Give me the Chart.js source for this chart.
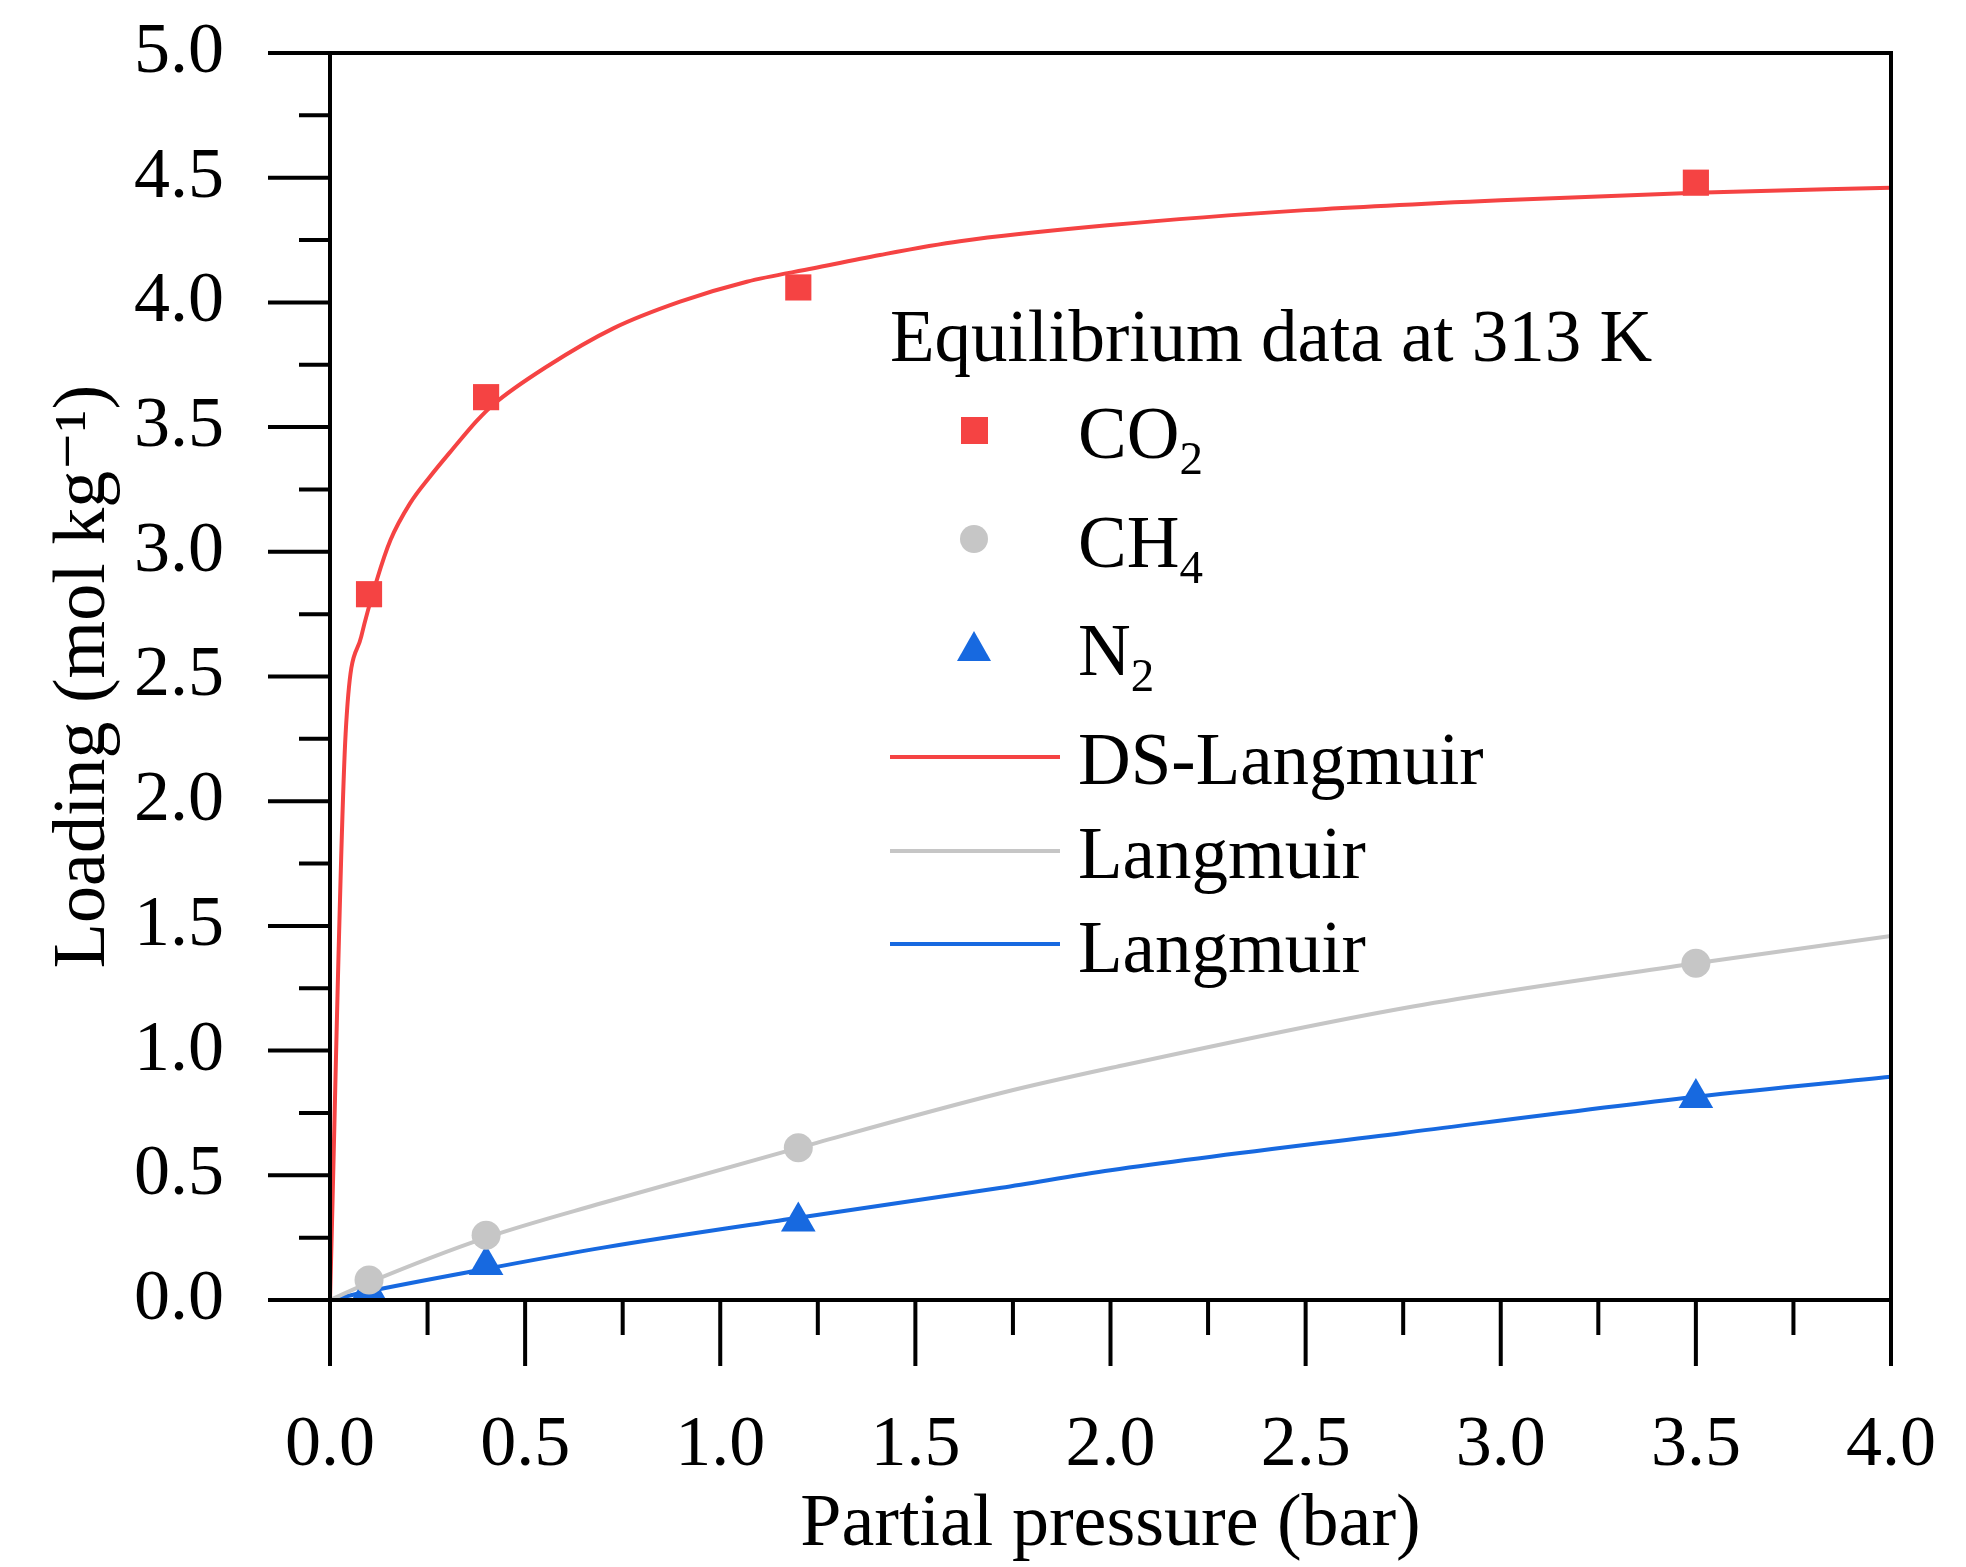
<!DOCTYPE html>
<html>
<head>
<meta charset="utf-8">
<title>Equilibrium isotherms at 313 K</title>
<script src="https://cdn.jsdelivr.net/npm/chart.js@4.4.0/dist/chart.umd.min.js"></script>
<style>
	html, body { margin: 0; padding: 0; background: #fff; }
	#wrap { position: relative; width: 1966px; height: 1567px; background: #fff; }
	#legend { position: absolute; left: 0; top: 0; font-family: 'Liberation Serif', 'Times New Roman', serif; font-size: 73px; line-height: 1; color: #000; }
	#legend .row { position: absolute; white-space: nowrap; }
	#legend .sub { font-size: 47px; position: relative; top: 16px; }
	#legend .mk { position: absolute; }
</style>
</head>
<body>
<div id="wrap">
	<canvas id="isothermChart"></canvas>
	<div id="legend">
		<div class="row" style="left:890px; top:300px;">Equilibrium data at 313 K</div>
		<div class="mk" style="left:961px; top:417px; width:27px; height:27px; background:#f54343;"></div>
		<div class="row" style="left:1078px; top:397px;">CO<span class="sub">2</span></div>
		<div class="mk" style="left:960px; top:525px; width:28px; height:28px; border-radius:50%; background:#c6c6c6;"></div>
		<div class="row" style="left:1078px; top:506px;">CH<span class="sub">4</span></div>
		<div class="mk" style="left:957px; top:631px; width:0; height:0; border-left:17px solid transparent; border-right:17px solid transparent; border-bottom:30px solid #1769e0;"></div>
		<div class="row" style="left:1078px; top:614px;">N<span class="sub">2</span></div>
		<div class="mk" style="left:890px; top:755px; width:170px; height:4px; background:#f54343;"></div>
		<div class="row" style="left:1078px; top:723px;">DS-Langmuir</div>
		<div class="mk" style="left:890px; top:849px; width:170px; height:4px; background:#c6c6c6;"></div>
		<div class="row" style="left:1078px; top:817px;">Langmuir</div>
		<div class="mk" style="left:890px; top:942px; width:170px; height:4px; background:#1769e0;"></div>
		<div class="row" style="left:1078px; top:911px;">Langmuir</div>
	</div>
</div>
<script>
(function () {
	'use strict';

	// measured points (bar, mol/kg)
	const pressureMeasured = [0.1, 0.4, 1.2, 3.5];
	const loadingCO2 = [2.83, 3.62, 4.06, 4.48];
	const loadingCH4 = [0.08, 0.26, 0.61, 1.35];
	const loadingN2 = [0.04, 0.14, 0.315, 0.81];

	// fitted curves
	const fitPressureCO2 = [0, 0.04, 0.08, 0.12, 0.155, 0.205, 0.256, 0.316, 0.376, 0.418, 0.555, 0.726, 0.897, 1.068, 1.239, 1.409, 1.614, 2.0, 2.5, 3.0, 3.5, 4.0];
	const fitLoadingCO2 = [0, 2.27, 2.66, 2.887, 3.047, 3.194, 3.301, 3.415, 3.525, 3.59, 3.742, 3.896, 4.003, 4.083, 4.137, 4.19, 4.245, 4.31, 4.37, 4.41, 4.44, 4.46];
	const fitPressureCH4 = [0, 0.1, 0.4, 0.7, 1.2, 1.72, 2.0, 2.75, 3.5, 4.0];
	const fitLoadingCH4 = [0, 0.07, 0.25, 0.39, 0.61, 0.83, 0.93, 1.17, 1.35, 1.46];
	const fitPressureN2 = [0, 0.1, 0.4, 0.7, 1.2, 1.72, 2.0, 2.75, 3.5, 4.0];
	const fitLoadingN2 = [0, 0.035, 0.125, 0.21, 0.33, 0.45, 0.52, 0.67, 0.815, 0.895];

	// axis ticks
	const xMajorTicks = [0, 0.5, 1.0, 1.5, 2.0, 2.5, 3.0, 3.5, 4.0];
	const xMinorTicks = [0.25, 0.75, 1.25, 1.75, 2.25, 2.75, 3.25, 3.75];
	const yMajorTicks = [0, 0.5, 1.0, 1.5, 2.0, 2.5, 3.0, 3.5, 4.0, 4.5, 5.0];
	const yMinorTicks = [0.25, 0.75, 1.25, 1.75, 2.25, 2.75, 3.25, 3.75, 4.25, 4.75];

	const RED = '#f54343';
	const GRAY = '#c6c6c6';
	const BLUE = '#1769e0';
	const FONT = "'Liberation Serif', 'Times New Roman', 'DejaVu Serif', serif";

	function toPoints(xs, ys) {
		return xs.map((x, i) => ({ x: x, y: ys[i] }));
	}

	// box frame plus outward major/minor ticks
	const frameAndTicks = {
		id: 'frameAndTicks',
		afterDatasetsDraw(chart) {
			const ctx = chart.ctx;
			const a = chart.chartArea;
			const xs = chart.scales.x;
			const ys = chart.scales.y;
			ctx.save();
			ctx.strokeStyle = '#000';
			ctx.lineWidth = 4;
			ctx.lineCap = 'butt';
			ctx.beginPath();
			xMajorTicks.forEach(v => {
				const px = xs.getPixelForValue(v);
				ctx.moveTo(px, a.bottom); ctx.lineTo(px, a.bottom + 66);
			});
			xMinorTicks.forEach(v => {
				const px = xs.getPixelForValue(v);
				ctx.moveTo(px, a.bottom); ctx.lineTo(px, a.bottom + 35);
			});
			yMajorTicks.forEach(v => {
				const py = ys.getPixelForValue(v);
				ctx.moveTo(a.left, py); ctx.lineTo(a.left - 62, py);
			});
			yMinorTicks.forEach(v => {
				const py = ys.getPixelForValue(v);
				ctx.moveTo(a.left, py); ctx.lineTo(a.left - 31, py);
			});
			ctx.stroke();
			ctx.lineJoin = 'miter';
			ctx.strokeRect(a.left, a.top, a.right - a.left, a.bottom - a.top);
			ctx.restore();
		}
	};

	function markerSet(label, ys, color, style, radius) {
		return {
			label: label,
			data: toPoints(pressureMeasured, ys),
			showLine: false,
			pointStyle: style,
			pointRadius: radius,
			pointHoverRadius: radius,
			pointBackgroundColor: color,
			pointBorderColor: color,
			pointBorderWidth: 0,
			order: 0
		};
	}

	function fitSet(label, xs, ys, color) {
		return {
			label: label,
			data: toPoints(xs, ys),
			showLine: true,
			borderColor: color,
			borderWidth: 4,
			pointRadius: 0,
			cubicInterpolationMode: 'monotone',
			fill: false,
			order: 1
		};
	}

	new Chart(document.getElementById('isothermChart'), {
		type: 'scatter',
		data: {
			datasets: [
				markerSet('CO2', loadingCO2, RED, 'rect', 18.5),
				markerSet('CH4', loadingCH4, GRAY, 'circle', 14.5),
				markerSet('N2', loadingN2, BLUE, 'triangle', 20),
				fitSet('DS-Langmuir', fitPressureCO2, fitLoadingCO2, RED),
				fitSet('Langmuir CH4', fitPressureCH4, fitLoadingCH4, GRAY),
				fitSet('Langmuir N2', fitPressureN2, fitLoadingN2, BLUE)
			]
		},
		options: {
			responsive: true,
			maintainAspectRatio: false,
			animation: false,
			layout: { padding: { left: 0, top: 53, right: 75, bottom: 0 } },
			plugins: {
				legend: { display: false },
				tooltip: { enabled: false }
			},
			scales: {
				x: {
					type: 'linear',
					min: 0,
					max: 4,
					grid: { display: false, drawTicks: false },
					border: { display: false },
					ticks: {
						stepSize: 0.5,
						autoSkip: false,
						maxRotation: 0,
						padding: 103,
						color: '#000',
						font: { family: FONT, size: 72 },
						callback: v => v.toFixed(1)
					},
					title: {
						display: true,
						text: 'Partial pressure (bar)',
						color: '#000',
						font: { family: FONT, size: 74, lineHeight: 1 },
						padding: { top: 0, bottom: 4 }
					},
					afterFit: scale => {
						scale.height = 267;
						scale.paddingLeft = 0;
						scale.paddingRight = 0;
					}
				},
				y: {
					type: 'linear',
					min: 0,
					max: 5,
					grid: { display: false, drawTicks: false },
					border: { display: false },
					ticks: {
						stepSize: 0.5,
						autoSkip: false,
						padding: 106,
						color: '#000',
						font: { family: FONT, size: 72 },
						callback: v => v.toFixed(1)
					},
					title: {
						display: true,
						text: 'Loading (mol kg\u207B\u00B9)',
						color: '#000',
						font: { family: FONT, size: 74, lineHeight: 1 },
						padding: { top: 48, bottom: 0 }
					},
					afterFit: scale => {
						scale.width = 330;
						scale.paddingTop = 0;
						scale.paddingBottom = 0;
					}
				}
			}
		},
		plugins: [frameAndTicks]
	});
})();
</script>
</body>
</html>
